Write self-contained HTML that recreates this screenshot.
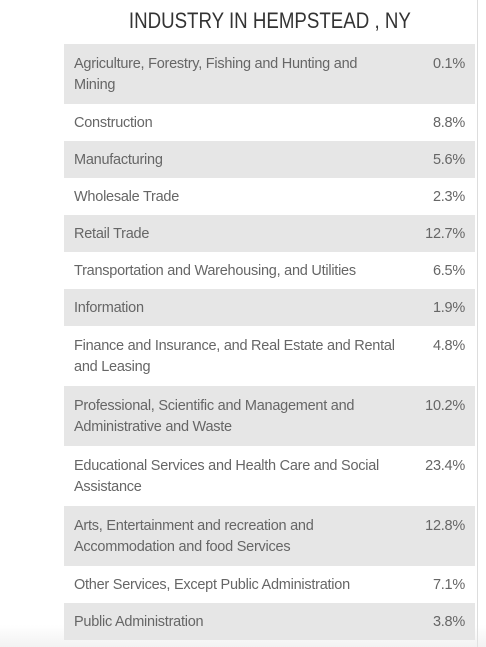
<!DOCTYPE html>
<html><head><style>
body{margin:0;width:486px;height:647px;background:#fff;position:relative;overflow:hidden;font-family:"Liberation Sans",sans-serif;}
#title{position:absolute;left:64px;width:412px;top:8px;text-align:center;font-size:22px;color:#333}
#title span{display:inline-block;transform:scaleX(0.85)}
#vline{position:absolute;left:477px;top:0;width:1px;height:647px;background:#ddd}
table{position:absolute;left:64px;top:44px;width:411px;border-collapse:collapse;font-size:14.5px;color:#666;letter-spacing:-0.25px;table-layout:fixed}
td{padding:0 0 0 10px;vertical-align:top;line-height:21px}
td.t{width:324px}
td.v{text-align:right;padding-right:10px;padding-left:0}
tr.g{background:#e6e6e6}
#shade{position:absolute;left:0;top:625px;width:486px;height:22px;background:linear-gradient(rgba(255,255,255,0),rgba(230,230,230,0.5))}
</style></head><body>
<div id="title"><span>INDUSTRY IN HEMPSTEAD , NY</span></div>
<div id="vline"></div>
<table>
<tr class="g" style="height:60px"><td class="t" style="padding-top:10px">Agriculture, Forestry, Fishing and Hunting and Mining</td><td class="v" style="padding-top:10px">0.1%</td></tr>
<tr style="height:37px"><td class="t" style="padding-top:9px">Construction</td><td class="v" style="padding-top:9px">8.8%</td></tr>
<tr class="g" style="height:37px"><td class="t" style="padding-top:9px">Manufacturing</td><td class="v" style="padding-top:9px">5.6%</td></tr>
<tr style="height:37px"><td class="t" style="padding-top:9px">Wholesale Trade</td><td class="v" style="padding-top:9px">2.3%</td></tr>
<tr class="g" style="height:37px"><td class="t" style="padding-top:9px">Retail Trade</td><td class="v" style="padding-top:9px">12.7%</td></tr>
<tr style="height:37px"><td class="t" style="padding-top:9px">Transportation and Warehousing, and Utilities</td><td class="v" style="padding-top:9px">6.5%</td></tr>
<tr class="g" style="height:37px"><td class="t" style="padding-top:9px">Information</td><td class="v" style="padding-top:9px">1.9%</td></tr>
<tr style="height:60px"><td class="t" style="padding-top:10px">Finance and Insurance, and Real Estate and Rental and Leasing</td><td class="v" style="padding-top:10px">4.8%</td></tr>
<tr class="g" style="height:60px"><td class="t" style="padding-top:10px">Professional, Scientific and Management and Administrative and Waste</td><td class="v" style="padding-top:10px">10.2%</td></tr>
<tr style="height:60px"><td class="t" style="padding-top:10px">Educational Services and Health Care and Social Assistance</td><td class="v" style="padding-top:10px">23.4%</td></tr>
<tr class="g" style="height:60px"><td class="t" style="padding-top:10px">Arts, Entertainment and recreation and Accommodation and food Services</td><td class="v" style="padding-top:10px">12.8%</td></tr>
<tr style="height:37px"><td class="t" style="padding-top:9px">Other Services, Except Public Administration</td><td class="v" style="padding-top:9px">7.1%</td></tr>
<tr class="g" style="height:37px"><td class="t" style="padding-top:9px">Public Administration</td><td class="v" style="padding-top:9px">3.8%</td></tr>
</table>
<div id="shade"></div>
</body></html>
